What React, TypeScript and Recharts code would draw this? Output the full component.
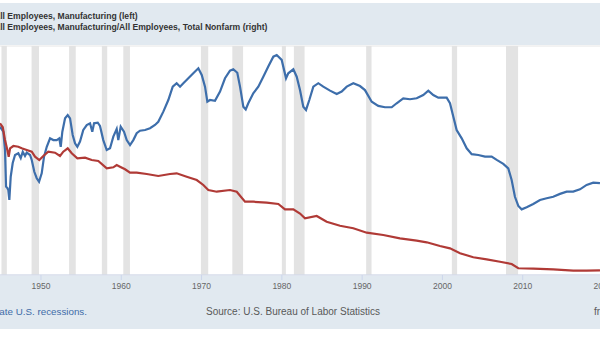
import React from "react";
import { LineChart, Line, XAxis, YAxis, CartesianGrid, ReferenceArea } from "recharts";

// All Employees, Manufacturing (thousands of persons), left axis
const empYears = [
  1944.9, 1945.31, 1945.52, 1945.65, 1945.81, 1945.93, 1946.06, 1946.23, 1946.48, 1946.77,
  1947.18, 1947.48, 1947.73, 1948.01, 1948.22, 1948.64, 1948.85, 1949.17, 1949.47, 1949.76,
  1950.09, 1950.38, 1950.72, 1951.13, 1951.54, 1951.96, 1952.28, 1952.46, 1952.66, 1953.0,
  1953.33, 1953.62, 1953.95, 1954.24, 1954.53, 1954.86, 1955.27, 1955.7, 1956.11, 1956.39,
  1956.61, 1957.07, 1957.35, 1957.76, 1958.19, 1958.6, 1959.01, 1959.43, 1959.63, 1959.93,
  1960.34, 1960.68, 1961.09, 1961.5, 1961.92, 1962.33, 1962.96, 1963.58, 1964.2, 1964.61,
  1965.24, 1965.86, 1966.41, 1966.9, 1967.32, 1967.73, 1968.35, 1968.97, 1969.6, 1970.02,
  1970.43, 1970.72, 1971.05, 1971.67, 1972.3, 1972.92, 1973.54, 1973.95, 1974.45, 1974.79,
  1975.2, 1975.5, 1975.82, 1976.44, 1977.07, 1977.69, 1978.31, 1978.94, 1979.36, 1979.98,
  1980.52, 1980.8, 1981.43, 1981.85, 1982.26, 1982.67, 1983.01, 1983.42, 1983.92, 1984.54,
  1985.16, 1986.0, 1986.83, 1987.45, 1988.08, 1988.9, 1989.73, 1990.35, 1991.19, 1992.01,
  1992.84, 1993.68, 1994.3, 1995.12, 1995.96, 1996.79, 1997.61, 1998.24, 1998.86, 1999.48,
  2000.53, 2000.94, 2001.35, 2001.77, 2002.4, 2003.02, 2003.64, 2004.47, 2005.3, 2006.13,
  2006.76, 2007.58, 2008.2, 2008.62, 2009.03, 2009.45, 2009.87, 2010.49, 2011.31, 2012.15,
  2012.98, 2013.8, 2014.64, 2015.47, 2016.29, 2017.13, 2017.96, 2018.78, 2019.62,
];
const empValues = [
  15770, 15510, 14550, 12630, 12560, 12450, 11930, 13150, 13870, 14290,
  14380, 14130, 14460, 14240, 14410, 14290, 14030, 13410, 13070, 12890,
  13330, 14200, 14720, 15160, 15070, 15070, 15160, 14720, 15510, 16210,
  16380, 16210, 15340, 14900, 14720, 14990, 15600, 15860, 15950, 15510,
  15950, 15980, 15810, 15070, 14550, 14640, 15250, 15650, 15070, 15770,
  15510, 15070, 14810, 15070, 15430, 15560, 15600, 15690, 15860, 16030,
  16560, 17170, 17870, 18050, 17870, 18050, 18310, 18570, 18830, 18480,
  17870, 17080, 17170, 17130, 17610, 18310, 18710, 18780, 18600, 17870,
  16820, 16680, 17000, 17520, 17870, 18390, 18920, 19440, 19530, 19270,
  18310, 18570, 18780, 18390, 17690, 16820, 16650, 17170, 17870, 18050,
  17870, 17660, 17480, 17610, 17870, 18050, 17900, 17690, 17080, 16860,
  16790, 16790, 17000, 17260, 17210, 17260, 17430, 17660, 17430, 17290,
  17290, 17000, 16300, 15600, 15160, 14640, 14330, 14290, 14200, 14200,
  14030, 13820, 13590, 12980, 12100, 11620, 11440, 11550, 11720, 11930,
  12020, 12100, 12250, 12370, 12370, 12490, 12720, 12840, 12810,
];

// Manufacturing / Total Nonfarm (percent), right axis
const shareYears = [
  1944.9, 1945.24, 1945.52, 1945.81, 1945.98, 1946.15, 1946.56, 1947.18, 1947.6, 1948.23,
  1948.85, 1949.26, 1949.79, 1950.29, 1950.91, 1951.75, 1952.37, 1952.78, 1953.33, 1953.83,
  1954.53, 1955.49, 1956.32, 1957.14, 1958.19, 1959.01, 1959.43, 1959.84, 1960.47, 1961.09,
  1961.92, 1963.17, 1964.61, 1966.07, 1966.9, 1968.15, 1969.4, 1970.22, 1970.84, 1971.89,
  1973.54, 1974.38, 1975.41, 1976.44, 1978.11, 1979.56, 1980.39, 1981.43, 1982.26, 1982.88,
  1984.34, 1985.58, 1987.24, 1988.9, 1990.57, 1992.63, 1994.71, 1996.79, 1998.04, 1999.69,
  2000.94, 2002.19, 2003.84, 2005.51, 2007.17, 2008.62, 2009.45, 2011.31, 2013.8, 2016.29,
  2017.96, 2019.62,
];
const shareValues = [
  37.47, 36.67, 34.12, 32.11, 30.76, 32.45, 32.91, 32.77, 32.45, 32.11,
  31.77, 30.76, 30.1, 30.9, 31.77, 31.57, 30.9, 31.77, 32.45, 31.45,
  30.44, 30.56, 30.1, 29.9, 28.43, 28.63, 29.1, 28.75, 28.23, 27.55,
  27.55, 27.29, 26.89, 27.29, 27.43, 26.75, 26.08, 25.08, 24.08, 23.73,
  24.07, 23.73, 21.72, 21.72, 21.52, 21.26, 20.2, 20.2, 19.35, 18.39,
  18.85, 17.71, 16.9, 16.39, 15.5, 15.03, 14.37, 13.89, 13.57, 12.82,
  12.36, 11.36, 10.56, 10.15, 9.67, 9.21, 8.35, 8.27, 8.14, 7.86,
  7.86, 7.94,
];

const recessionStarts = [1945.08, 1948.83, 1953.5, 1957.58, 1960.25, 1969.92, 1973.83, 1980.0, 1981.5, 1990.5, 2001.17, 2007.92];
const recessionEnds = [1945.75, 1949.75, 1954.33, 1958.25, 1961.08, 1970.83, 1975.17, 1980.5, 1982.83, 1991.17, 2001.83, 2009.42];

const yearTicks = [1950, 1960, 1970, 1980, 1990, 2000, 2010, 2020];
const leftTicks = [8000, 10000, 12000, 14000, 16000, 18000, 20000];

const empData = empYears.map((y, i) => ({ year: y, emp: empValues[i] }));
const shareData = shareYears.map((y, i) => ({ year: y, share: shareValues[i] }));

const font = '"Liberation Sans", Arial, sans-serif';

export default function App() {
  return (
    <div style={{ position: "absolute", left: 0, top: 0, width: 600, height: 337, overflow: "hidden", background: "#fff", fontFamily: font }}>
      <div style={{ position: "absolute", left: 0, top: 3, width: 600, height: 42, background: "#e1e9f0" }} />
      <div style={{ position: "absolute", left: 0, top: 276, width: 600, height: 53, background: "#e1e9f0" }} />

      <div style={{ position: "absolute", left: -6, top: 11, fontSize: 8.6, fontWeight: "bold", color: "#333", lineHeight: "10.6px", whiteSpace: "nowrap" }}>
        <div>All Employees, Manufacturing (left)</div>
        <div>All Employees, Manufacturing/All Employees, Total Nonfarm (right)</div>
      </div>

      <div style={{ position: "absolute", left: -30, top: 0 }}>
        <LineChart width={660} height={337} margin={{ top: 46, right: 0, bottom: 32, left: 0 }}>
          <CartesianGrid vertical={false} stroke="#e6e6e6" />
          <XAxis
            dataKey="year"
            type="number"
            domain={[1941.16, 2023.36]}
            ticks={yearTicks}
            interval={0}
            allowDataOverflow
            axisLine={{ stroke: "#ccd6eb" }}
            tickLine={{ stroke: "#ccd6eb" }}
            tickSize={5}
            tickMargin={3}
            tick={{ fontSize: 8.5, fill: "#666", fontFamily: font }}
          />
          <YAxis yAxisId="left" hide domain={[8000, 20000]} ticks={leftTicks} />
          <YAxis yAxisId="right" orientation="right" hide domain={[7, 53]} />
          {recessionStarts.map((s, i) => (
            <ReferenceArea key={s} yAxisId="left" x1={s} x2={recessionEnds[i]} fill="#e3e3e3" fillOpacity={1} stroke="none" />
          ))}
          <Line yAxisId="left" data={empData} dataKey="emp" stroke="#3d6eab" strokeWidth={2.2} dot={false} isAnimationActive={false} />
          <Line yAxisId="right" data={shareData} dataKey="share" stroke="#b03a36" strokeWidth={2.2} dot={false} isAnimationActive={false} />
        </LineChart>
      </div>

      <div style={{ position: "absolute", right: 513, top: 306, fontSize: 9.8, color: "#3f6ca8", whiteSpace: "nowrap" }}>
        Shaded areas indicate U.S. recessions.
      </div>
      <div style={{ position: "absolute", left: 206, top: 306, fontSize: 10, color: "#595959", whiteSpace: "nowrap" }}>
        Source: U.S. Bureau of Labor Statistics
      </div>
      <div style={{ position: "absolute", left: 594, top: 306, fontSize: 10, color: "#595959", whiteSpace: "nowrap" }}>
        fred.stlouisfed.org
      </div>
    </div>
  );
}
